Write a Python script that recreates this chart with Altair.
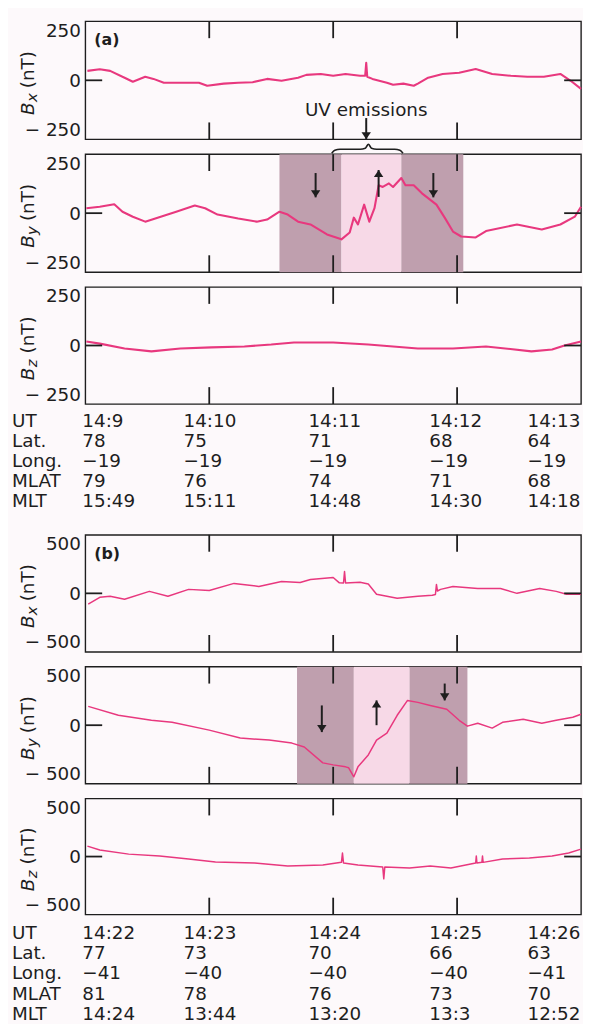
import altair as alt
import pandas as pd

# ---------------- data ----------------
TICK_T = [60, 120, 180]            # seconds after the first UT minute
COL_T = [0, 60, 120, 180, 240]     # UT minute positions (s)
ROW_LABELS = ["UT", "Lat.", "Long.", "MLAT", "MLT"]

A_UT = ["14:9", "14:10", "14:11", "14:12", "14:13"]
A_LAT = ["78", "75", "71", "68", "64"]
A_LONG = ["\u221219", "\u221219", "\u221219", "\u221219", "\u221219"]
A_MLAT = ["79", "76", "74", "71", "68"]
A_MLT = ["15:49", "15:11", "14:48", "14:30", "14:18"]

B_UT = ["14:22", "14:23", "14:24", "14:25", "14:26"]
B_LAT = ["77", "73", "70", "66", "63"]
B_LONG = ["\u221241", "\u221240", "\u221240", "\u221240", "\u221241"]
B_MLAT = ["81", "78", "76", "73", "70"]
B_MLT = ["14:24", "13:44", "13:20", "13:3", "12:52"]

# (a) field components, time in s after 14:09, values in nT
AX_T = [1, 7, 12, 19, 23, 29, 33, 38, 45, 55, 59, 67, 74, 81, 88, 95, 103, 107, 114, 120,
        126, 133, 135.5, 136, 136.5, 139, 146, 149, 154, 159, 161, 166, 173, 181, 189,
        197, 206, 214, 222, 230, 235, 240]
AX_V = [40, 47, 40, 11, -6, 15, 6, -10, -10, -10, -23, -14, -10, -8, 6, -2, 11, 23, 27, 19,
        27, 19, 20, 74, 15, 6, -10, -19, -14, -23, -14, 11, 27, 32, 48,
        27, 19, 15, 15, 27, -2, -36]

AY_T = [0.5, 7, 14, 18, 23, 29, 35, 44, 53, 58, 64, 74, 83, 88, 94, 98, 103, 109, 117, 124,
        128, 130, 132, 135, 137.5, 140, 142, 144, 147, 149, 153, 155, 159, 163, 170,
        174, 178, 182, 189, 194, 209, 221, 230, 237, 240]
AY_V = [21, 27, 38, 6, -15, -36, -19, 6, 32, 21, -6, -23, -36, -27, 6, -6, -36, -48, -90, -111,
        -82, -19, -48, 36, -36, 21, 118, 111, 126, 111, 149, 118, 118, 84, 36,
        -19, -78, -99, -103, -76, -48, -69, -48, -15, 27]

AZ_T = [0.5, 7, 19, 32, 46, 61, 77, 90, 101, 120, 137, 161, 178, 194, 216, 226, 232, 240]
AZ_V = [17, 8, -13, -25, -13, -8, -4, 4, 13, 13, 4, -13, -13, -4, -25, -17, 0, 17]

# (b) field components, time in s after 14:22
BX_T = [1.4, 7, 12, 19, 31, 40, 50, 60, 72, 84, 95, 104, 109, 120, 123, 125, 125.5, 126, 133, 137,
        141, 151, 161, 168, 169.5, 170, 170.5, 172, 178, 190, 201, 209, 220, 228, 233, 240]
BX_V = [-93, -34, -25, -51, 17, -25, 34, 25, 85, 59, 102, 93, 119, 136, 90, 88, 186, 88, 95, 80,
        -8, -42, -25, -17, -10, 76, 20, 34, 59, 42, 42, 0, 42, 17, -8, -8]

BY_T = [1.4, 16, 32, 42, 60, 75, 89, 100, 106, 115, 120, 126, 127.5, 130, 132, 137, 141, 146,
        151, 156, 161, 167, 175, 181, 185, 190, 197, 202, 212, 221, 228, 236, 240]
BY_V = [161, 85, 42, 25, -42, -110, -127, -153, -186, -322, -339, -356, -364, -441, -356, -254,
        -127, -68, 85, 212, 195, 169, 136, 42, -8, 17, -25, 25, 51, 17, 42, 68, 93]

BZ_T = [1, 7, 21, 36, 50, 63, 82, 98, 115, 124, 124.5, 125, 132, 144, 144.5, 145, 157, 167, 177,
        189, 189.3, 189.6, 192, 192.3, 192.6, 202, 215, 226, 234, 240]
BZ_V = [90, 56, 21, 4, -21, -47, -56, -81, -73, -50, 30, -55, -73, -90, -192, -90, -98, -81, -98,
        -56, 4, -56, -50, 4, -50, -21, -13, 4, 30, 64]

# shaded intervals (s)
SHADE_KIND = ["dark", "light", "dark"]
A_SHADE_T0 = [94, 124, 153]
A_SHADE_T1 = [124, 153, 183]
B_SHADE_T0 = [102.5, 130, 157]
B_SHADE_T1 = [130, 157, 185]

# arrows in the By panels
ARROW_DIR = ["down", "up", "down"]
A_ARROW_T = [111.5, 142, 168.5]
A_ARROW_TAIL = [170, 69, 170]
A_ARROW_TIP = [67, 183, 67]
B_ARROW_T = [114.5, 141, 174]
B_ARROW_TAIL = [169, 0, 356]
B_ARROW_TIP = [-59, 212, 212]

# "UV emissions" annotation of panel (a)
UV_T = 136
UV_TEXT_V = -128
UV_ARROW_TAIL = -160
UV_ARROW_TIP = -250
BRACE_T0, BRACE_T1 = 119.3, 153.8

# ---------------- style ----------------
W = 500
FONT = "DejaVu Sans"
FS = 18.5
LINE = "#e8387e"
INK = "#1e1e1e"
DARK = "#bf9fae"
LIGHT = "#f7d9e7"
BG = "#fdf9fb"
TICK_LEN = 17
COL_DX = [-3, -26, -25, -28, -54]
HEAD_DOWN = "M0,0L-1,-1.5L1,-1.5Z"
HEAD_UP = "M0,0L-1,1.5L1,1.5Z"
HEAD_SIZE = 90
LABEL_EXPR = "datum.value < 0 ? '\u2212 ' + format(-datum.value, 'd') : format(datum.value, 'd')"

XS = alt.Scale(domain=[0, 240], nice=False, zero=False)


def X(f):
    return alt.X(f, type="quantitative", scale=XS, axis=None)


def one(**kw):
    return pd.DataFrame({k: [v] for k, v in kw.items()})


def panel(t, v, ymax, height, sub, tag=None, shades=None, arrows=None, extra=None, lw=1.7):
    ys = alt.Scale(domain=[-ymax, ymax], nice=False, zero=False)
    yaxis = alt.Axis(values=[-ymax, 0, ymax], labelFlush=True, labelExpr=LABEL_EXPR,
                     labelFont=FONT, labelFontSize=FS, labelColor=INK, labelPadding=5,
                     ticks=False, domain=False, grid=False, title=None)

    def Y(f):
        return alt.Y(f, type="quantitative", scale=ys, axis=yaxis)

    layers = []
    if shades is not None:
        layers.append(alt.Chart(shades).mark_rect().encode(
            x=X("t0"), x2="t1", y=alt.value(0), y2=alt.value(height),
            color=alt.Color("kind:N", scale=alt.Scale(domain=["dark", "light"], range=[DARK, LIGHT]),
                            legend=None)))
    layers.append(alt.Chart(pd.DataFrame({"t": t, "v": v})).mark_line(
        color=LINE, strokeWidth=lw, strokeJoin="round").encode(x=X("t"), y=Y("v")))
    tk = pd.DataFrame({"t": TICK_T})
    layers.append(alt.Chart(tk).mark_rule(color=INK, strokeWidth=1.8).encode(
        x=X("t"), y=alt.value(0), y2=alt.value(TICK_LEN)))
    layers.append(alt.Chart(tk).mark_rule(color=INK, strokeWidth=1.8).encode(
        x=X("t"), y=alt.value(height - TICK_LEN), y2=alt.value(height)))
    z = pd.DataFrame({"v": [0]})
    layers.append(alt.Chart(z).mark_rule(color=INK, strokeWidth=1.8).encode(
        y=Y("v"), x=alt.value(0), x2=alt.value(TICK_LEN)))
    layers.append(alt.Chart(z).mark_rule(color=INK, strokeWidth=1.8).encode(
        y=Y("v"), x=alt.value(W - TICK_LEN), x2=alt.value(W)))
    if arrows is not None:
        layers.append(alt.Chart(arrows).mark_rule(color=INK, strokeWidth=2).encode(
            x=X("t"), y=Y("tail"), y2="tip"))
        layers.append(alt.Chart(arrows).mark_point(filled=True, color=INK, opacity=1,
                                                   size=HEAD_SIZE).encode(
            x=X("t"), y=Y("tip"),
            shape=alt.Shape("dir:N", scale=alt.Scale(domain=["down", "up"], range=[HEAD_DOWN, HEAD_UP]),
                            legend=None)))
    # y-axis title: italic B, subscript, (nT)
    c = height / 2
    layers.append(alt.Chart(one(s="B")).mark_text(
        font=FONT, fontSize=FS, fontStyle="italic", angle=270, align="left", baseline="alphabetic",
        color=INK).encode(text="s:N", x=alt.value(-52), y=alt.value(c + 35)))
    layers.append(alt.Chart(one(s=sub)).mark_text(
        font=FONT, fontSize=15, fontStyle="italic", angle=270, align="left", baseline="alphabetic",
        color=INK).encode(text="s:N", x=alt.value(-49), y=alt.value(c + 22)))
    layers.append(alt.Chart(one(s="(nT)")).mark_text(
        font=FONT, fontSize=FS, angle=270, align="left", baseline="alphabetic",
        color=INK).encode(text="s:N", x=alt.value(-52), y=alt.value(c + 8)))
    if tag is not None:
        layers.append(alt.Chart(one(s=tag)).mark_text(
            font=FONT, fontSize=16, fontWeight="bold", align="left", baseline="middle",
            color=INK).encode(text="s:N", x=alt.value(9), y=alt.value(19)))
    if extra is not None:
        layers.extend(extra(X, Y, height))
    return alt.layer(*layers).properties(width=W, height=height)


def text_block(cols, height, first_off, step=20.25):
    d0 = -first_off / step
    d1 = d0 + height / step
    ys = alt.Scale(domain=[d0, d1], reverse=True, nice=False, zero=False)

    def Y(f):
        return alt.Y(f, type="quantitative", scale=ys, axis=None)

    layers = [alt.Chart(pd.DataFrame({"r": list(range(5)), "s": ROW_LABELS})).mark_text(
        align="left", baseline="middle", font=FONT, fontSize=FS, color=INK).encode(
        x=alt.value(-74), y=Y("r"), text="s:N")]
    for ci in range(5):
        df = pd.DataFrame({"t": [COL_T[ci]] * 5, "r": list(range(5)),
                           "s": [cols[k][ci] for k in range(5)]})
        layers.append(alt.Chart(df).mark_text(
            align="left", baseline="middle", font=FONT, fontSize=FS, color=INK,
            dx=COL_DX[ci]).encode(x=X("t"), y=Y("r"), text="s:N"))
    return alt.layer(*layers).properties(width=W, height=height,
                                         view=alt.ViewBackground(stroke="transparent"))


def uv_extra(X, Y, height):
    return [
        alt.Chart(one(t=UV_T, v=UV_TEXT_V, s="UV emissions")).mark_text(
            font=FONT, fontSize=FS, align="center", baseline="middle", color=INK).encode(
            x=X("t"), y=Y("v"), text="s:N"),
        alt.Chart(one(t=UV_T, tail=UV_ARROW_TAIL, tip=UV_ARROW_TIP)).mark_rule(
            color=INK, strokeWidth=2).encode(x=X("t"), y=Y("tail"), y2="tip"),
        alt.Chart(one(t=UV_T, tip=UV_ARROW_TIP)).mark_point(
            filled=True, color=INK, opacity=1, size=HEAD_SIZE, shape=HEAD_DOWN).encode(
            x=X("t"), y=Y("tip")),
    ]


def brace_extra(X, Y, height):
    per_px = 500.0 / height  # nT per pixel in this panel
    top = 250
    tm = (BRACE_T0 + BRACE_T1) / 2 + 0.5
    bt = [BRACE_T0, BRACE_T0 + 1.5, BRACE_T0 + 4, tm - 4, tm - 1.5, tm, tm + 1.5, tm + 4,
          BRACE_T1 - 4, BRACE_T1 - 1.5, BRACE_T1]
    bpx = [1, 4, 5, 5, 6, 10, 6, 5, 5, 4, 1]
    bdf = pd.DataFrame({"t": bt, "v": [top + p * per_px for p in bpx]})
    return [alt.Chart(bdf).mark_line(color=INK, strokeWidth=1.6, interpolate="monotone").encode(
        x=X("t"), y=Y("v"))]


def shade_df(t0, t1):
    return pd.DataFrame({"t0": t0, "t1": t1, "kind": SHADE_KIND})


def arrow_df(t, tail, tip):
    return pd.DataFrame({"t": t, "tail": tail, "tip": tip, "dir": ARROW_DIR})


ax = panel(AX_T, AX_V, 250, 119, "x", tag="(a)", extra=uv_extra, lw=2.1)
ay = panel(AY_T, AY_V, 250, 119, "y", shades=shade_df(A_SHADE_T0, A_SHADE_T1),
           arrows=arrow_df(A_ARROW_T, A_ARROW_TAIL, A_ARROW_TIP), extra=brace_extra, lw=2.1)
az = panel(AZ_T, AZ_V, 250, 118, "z", lw=2.1)
ta = text_block([A_UT, A_LAT, A_LONG, A_MLAT, A_MLT], 102, 2)
bx = panel(BX_T, BX_V, 500, 118, "x", tag="(b)", lw=1.5)
by = panel(BY_T, BY_V, 500, 118, "y", shades=shade_df(B_SHADE_T0, B_SHADE_T1),
           arrows=arrow_df(B_ARROW_T, B_ARROW_TAIL, B_ARROW_TIP), lw=1.5)
bz = panel(BZ_T, BZ_V, 500, 117, "z", lw=1.5)
tb = text_block([B_UT, B_LAT, B_LONG, B_MLAT, B_MLT], 93, 4)

chart = alt.vconcat(ax, ay, az, ta, bx, by, bz, tb, spacing=15, bounds="flush").properties(
    padding={"left": 3, "top": 7, "right": 0, "bottom": 0}, background=BG
).configure_view(stroke=INK, strokeWidth=1.4)

chart.save("out.html", embed_options={"renderer": "svg", "actions": False})
